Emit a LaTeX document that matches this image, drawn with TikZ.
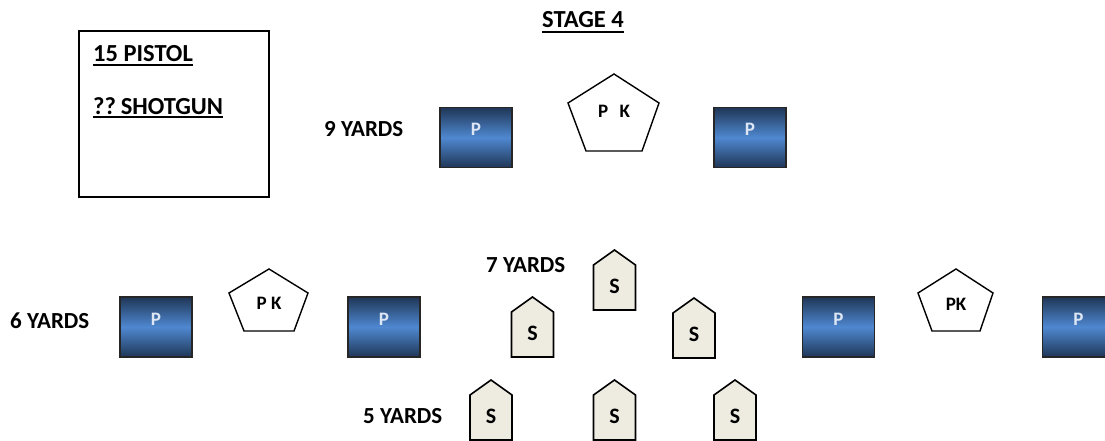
\documentclass[tikz,border=0pt]{standalone}
\usepackage{fontspec}
\setmainfont{Carlito}
\definecolor{pdark}{HTML}{1F3657}
\definecolor{plight}{HTML}{4F88D0}
\definecolor{ptext}{HTML}{DCE6F4}
\definecolor{sfill}{HTML}{EEECE1}
\newcommand{\lbl}{\fontsize{23}{26}\selectfont\bfseries}
\newcommand{\ttl}{\fontsize{24.5}{27}\selectfont\bfseries}
\newcommand{\pfont}{\fontsize{19}{22}\selectfont\bfseries}
\newcommand{\sfont}{\fontsize{22}{24}\selectfont\bfseries}
\newcommand{\starget}[3]{%
  \draw[sline] ({#2-21},{#3+15}) -- (#2,#3) -- ({#2+21},{#3+15}) -- ({#2+21},{#3+60}) -- ({#2-21},{#3+60}) -- cycle;
  \node[stext] (#1) at (#2,{#3+36}) {S};}
\begin{document}
\begin{tikzpicture}[x=1pt,y=-1pt,
  txt/.style={font=\lbl, inner sep=0, anchor=base west},
  ttxt/.style={font=\ttl, inner sep=0, anchor=base west},
  uline/.style={line width=2.4pt, black},
  pbox/.style={draw=black!85, line width=1.6pt, minimum width=72pt, minimum height=60pt, inner sep=0,
     top color=pdark, bottom color=pdark, middle color=plight,
     label={[text=ptext, font=\pfont, yshift=8pt, inner sep=0]center:P}},
  pent/.style={draw=black, line width=1.4pt, fill=white, line join=miter},
  pktext/.style={font=\pfont, inner sep=0},
  sline/.style={draw=black, line width=1.6pt, fill=sfill},
  stext/.style={font=\sfont, inner sep=0},
  legend/.style={draw=black, line width=1.6pt}]
\path[use as bounding box] (0,0) rectangle (1105,441);
\clip (0,0) rectangle (1105,441);
\fill[white] (0,0) rectangle (1105,441);

% title
\node[ttxt] (title) at (542,28) {STAGE 4};
\draw[uline] ([yshift=-4pt]title.base west) -- ([yshift=-4pt]title.base east);

% legend
\node[legend, minimum width=190pt, minimum height=166pt, inner sep=0] (legendbox) at (174,114) {};
\node[ttxt] (pistol) at (93,62) {15 PISTOL};
\draw[uline] ([yshift=-3pt]pistol.base west) -- ([yshift=-3pt]pistol.base east);
\node[ttxt] (shotgun) at (93,114) {??\hspace{0.2em}SHOTGUN};
\draw[uline] ([yshift=-3pt]shotgun.base west) -- ([yshift=-3pt]shotgun.base east);

% distance labels
\node[txt] (y9) at (324,136) {9 YARDS};
\node[txt] (y6) at (10,328) {6 YARDS};
\node[txt] (y7) at (486,272) {7 YARDS};
\node[txt] (y5) at (363,423) {5 YARDS};

% 9 yard row
\node[pbox] (p1) at (476,137.5) {};
\node[pbox] (p2) at (750,137.5) {};
\draw[pent] (614,74) -- (659,103) -- (642,151) -- (586,151) -- (568,103) -- cycle;
\node[pktext] (pk1) at (614,111) {P\hspace{0.6em}K};

% 6 yard row
\node[pbox] (p3) at (156,327) {};
\node[pbox] (p4) at (384,327) {};
\node[pbox] (p5) at (838.5,327) {};
\node[pbox] (p6) at (1078.5,327) {};
\draw[pent] (269,269) -- (308,293) -- (294,331) -- (244,331) -- (229,293) -- cycle;
\node[pktext] (pk2) at (269,303) {P K};
\draw[pent] (956,269) -- (993,293) -- (980,331) -- (932,331) -- (918,293) -- cycle;
\node[pktext] (pk3) at (956,304) {PK};

% shotgun targets
\starget{s1}{614.5}{250}
\starget{s2}{532.5}{297}
\starget{s3}{694}{298}
\starget{s4}{491}{380}
\starget{s5}{614.5}{380}
\starget{s6}{735}{380}
\end{tikzpicture}
\end{document}
